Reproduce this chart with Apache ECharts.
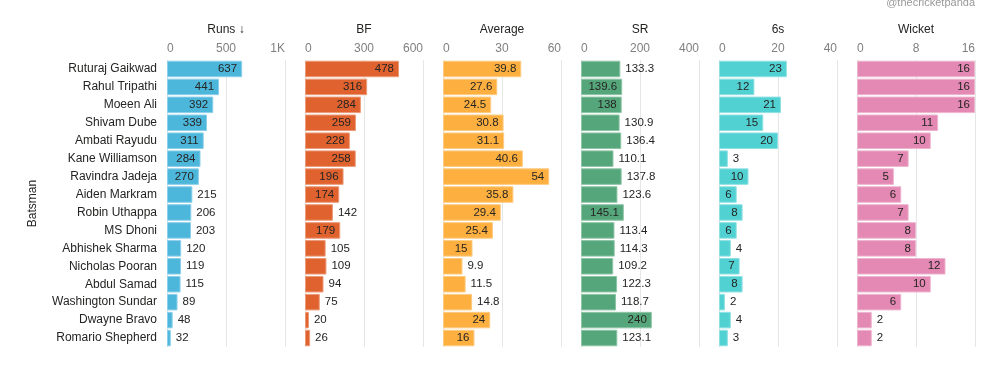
<!DOCTYPE html>
<html>
<head>
<meta charset="utf-8">
<script src="https://cdn.jsdelivr.net/npm/echarts@6/dist/echarts.min.js"></script>
<style>html,body{margin:0;padding:0;background:#fff;}#c{width:988px;height:373px;}</style>
</head>
<body>
<div id="c"></div>
<script>
const batsmen = ["Ruturaj Gaikwad","Rahul Tripathi","Moeen Ali","Shivam Dube","Ambati Rayudu","Kane Williamson","Ravindra Jadeja","Aiden Markram","Robin Uthappa","MS Dhoni","Abhishek Sharma","Nicholas Pooran","Abdul Samad","Washington Sundar","Dwayne Bravo","Romario Shepherd"];
const runs = [637,441,392,339,311,284,270,215,206,203,120,119,115,89,48,32];
const bf = [478,316,284,259,228,258,196,174,142,179,105,109,94,75,20,26];
const average = [39.8,27.6,24.5,30.8,31.1,40.6,54,35.8,29.4,25.4,15,9.9,11.5,14.8,24,16];
const sr = [133.3,139.6,138,130.9,136.4,110.1,137.8,123.6,145.1,113.4,114.3,109.2,122.3,118.7,240,123.1];
const sixes = [23,12,21,15,20,3,10,6,8,6,4,7,8,2,4,3];
const wickets = [16,16,16,11,10,7,5,6,7,8,8,12,10,6,2,2];
const panelTitles = ["Runs \u2193","BF","Average","SR","6s","Wicket"];
const axisMax = [1000,600,60,400,40,16];
const axisInterval = [500,300,30,200,20,8];

const series = [runs,bf,average,sr,sixes,wickets];
const colors = ["#4DB6DB","#E0622F","#FDB03F","#55A77B","#52D1D3","#E389B3"];
const borders = ["#8CCFEA","#EC9A78","#FDCB82","#8EC5A7","#8FE1E3","#EEB5CF"];

const FONT = '"Liberation Sans", Arial, sans-serif';
const gridW = 118, gridTop = 60, gridH = 287;
const lefts = [167,305,443,581,719,857];

const cv = document.createElement('canvas').getContext('2d');
cv.font = '11.5px ' + FONT;

const grids = [], xAxes = [], yAxes = [], ser = [];
for (let i = 0; i < 6; i++) {
  grids.push({left: lefts[i], top: gridTop, width: gridW, height: gridH, containLabel: false});
  xAxes.push({
    type: 'value', gridIndex: i, position: 'top', min: 0, max: axisMax[i], interval: axisInterval[i],
    name: panelTitles[i], nameLocation: 'middle', nameGap: 24,
    nameTextStyle: {color: '#252423', fontSize: 12, fontFamily: FONT},
    axisLine: {show: false}, axisTick: {show: false},
    axisLabel: {color: '#808080', fontSize: 12, fontFamily: FONT, margin: 5,
      alignMinLabel: 'left', alignMaxLabel: 'right',
      formatter: v => v >= 1000 ? (v/1000) + 'K' : String(v)},
    splitLine: {show: true, lineStyle: {color: '#E6E6E6', width: 1}}
  });
  yAxes.push({
    type: 'category', gridIndex: i, data: batsmen, inverse: true,
    axisLine: {show: false}, axisTick: {show: false},
    axisLabel: {show: i === 0, color: '#252423', fontSize: 12, fontFamily: FONT, margin: 10},
    name: i === 0 ? 'Batsman' : '', nameLocation: 'middle', nameGap: 128, nameRotate: 90,
    nameTextStyle: {color: '#252423', fontSize: 12, fontFamily: FONT}
  });
  const vals = series[i];
  const data = vals.map(v => {
    const px = v / axisMax[i] * gridW;
    const tw = cv.measureText(String(v)).width;
    const inside = px >= tw * 1.15 + 8;
    return {value: v, label: {position: inside ? 'insideRight' : 'right'}};
  });
  ser.push({
    type: 'bar', xAxisIndex: i, yAxisIndex: i, data: data, barCategoryGap: '8%',
    itemStyle: {color: colors[i], borderColor: borders[i], borderWidth: 1},
    label: {show: true, color: '#252423', fontSize: 11.5, fontFamily: FONT, distance: 5},
    silent: true, animation: false
  });
}

const chart = echarts.init(document.getElementById('c'), null, {renderer: 'canvas'});
chart.setOption({
  animation: false,
  grid: grids, xAxis: xAxes, yAxis: yAxes, series: ser,
  graphic: [{type: 'text', right: 13, top: -3,
    style: {text: '@thecricketpanda', fill: '#999', font: '11px ' + FONT}}]
});
</script>
</body>
</html>
